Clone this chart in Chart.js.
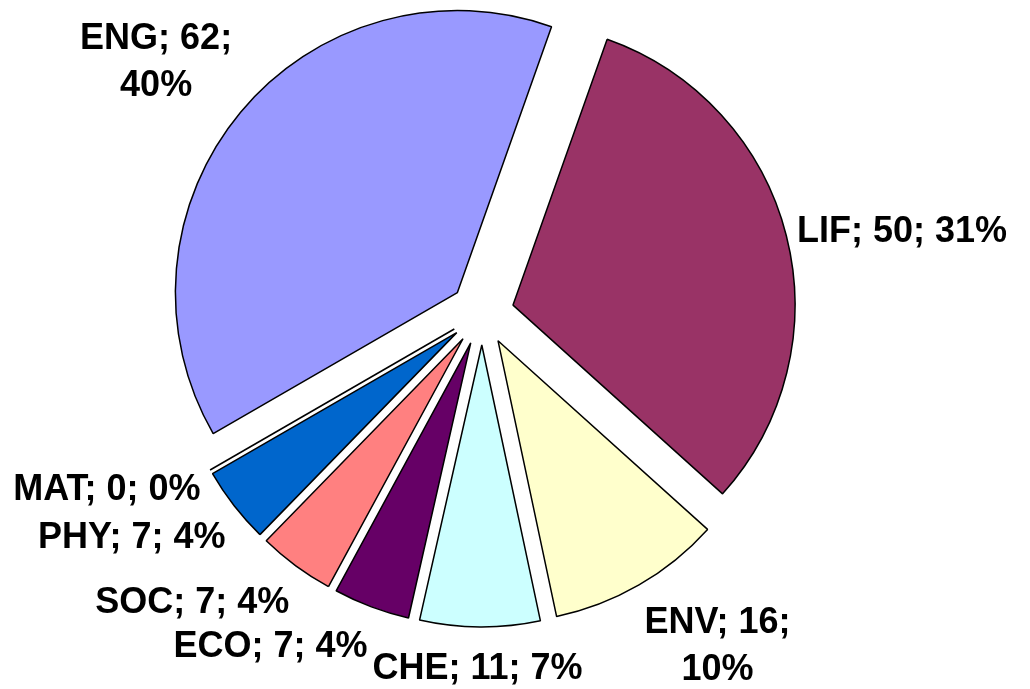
<!DOCTYPE html>
<html>
<head>
<meta charset="utf-8">
<script src="https://cdn.jsdelivr.net/npm/chart.js@4"></script>
<style>
  html, body { margin: 0; padding: 0; background: #fff; }
  #wrap { width: 1030px; height: 689px; position: relative; }
</style>
</head>
<body>
<div id="wrap"><canvas id="pieChart"></canvas></div>
<script>
const subjects = ["ENG", "LIF", "ENV", "CHE", "ECO", "SOC", "PHY", "MAT"];
const counts = [62, 50, 16, 11, 7, 7, 7, 0];
const percents = [40, 31, 10, 7, 4, 4, 4, 0];
const sliceColors = ["#9999ff", "#993366", "#ffffcc", "#ccffff", "#660066", "#ff8080", "#0066cc", "#ccccff"];

const EXPLODE = 32; // how far every slice is pulled out, px
const LABEL_FONT = 'bold 36px "Liberation Sans", Arial, sans-serif';

const clamp = (v, lo, hi) => Math.max(lo, Math.min(hi, v));

// Chart.js grows the radius of exploded slices (and trims their angle a bit); undo that
const explodeFix = {
  id: "explodeFix",
  afterDatasetsUpdate(chart) {
    const meta = chart.getDatasetMeta(0);
    const R = meta.controller.outerRadius;
    meta.data.forEach((arc) => {
      const circ = arc.circumference;
      if (!circ) return;
      const grow = EXPLODE * (1 - Math.sin(Math.min(Math.PI, circ)));
      const trim = grow / Math.PI / R / 2;
      arc.outerRadius = R - grow;
      arc.startAngle -= trim;
      arc.endAngle += trim;
    });
  },
};

function wrapText(ctx, text, maxW) {
  const words = text.split(" ");
  const lines = [];
  let cur = "";
  words.forEach((w) => {
    const test = cur ? cur + " " + w : w;
    if (cur && ctx.measureText(test).width > maxW) {
      lines.push(cur);
      cur = w;
    } else {
      cur = test;
    }
  });
  lines.push(cur);
  return lines;
}

// "name; value; pct%" labels outside the pie, plus the zero slice drawn as a line
const sliceLabels = {
  id: "sliceLabels",
  afterDatasetsDraw(chart) {
    const { ctx } = chart;
    const meta = chart.getDatasetMeta(0);
    const R = meta.controller.outerRadius;
    ctx.save();

    meta.data.forEach((arc) => {
      if (arc.circumference) return;
      const a = arc.startAngle;
      const ox = arc.x + Math.cos(a) * EXPLODE;
      const oy = arc.y + Math.sin(a) * EXPLODE;
      ctx.strokeStyle = "#000";
      ctx.lineWidth = 1.5;
      ctx.beginPath();
      ctx.moveTo(ox, oy);
      ctx.lineTo(ox + Math.cos(a) * R, oy + Math.sin(a) * R);
      ctx.stroke();
    });

    ctx.font = LABEL_FONT;
    ctx.fillStyle = "#000";
    ctx.textAlign = "center";
    ctx.textBaseline = "alphabetic";
    const capH = 26, lineGap = 47, maxW = 222;
    const rx = R + EXPLODE + 11, ry = R + EXPLODE + 26;
    meta.data.forEach((arc, i) => {
      const mid = (arc.startAngle + arc.endAngle) / 2;
      const ux = Math.cos(mid), uy = Math.sin(mid);
      const lines = wrapText(ctx, `${subjects[i]}; ${counts[i]}; ${percents[i]}%`, maxW);
      const w = Math.max(...lines.map((l) => ctx.measureText(l).width));
      const h = capH + (lines.length - 1) * lineGap;
      const sx = clamp(ux / 0.3, -1, 1);
      const sy = Math.sign(uy) * clamp((Math.abs(uy) - 0.45) / 0.15, 0, 1);
      const cx = arc.x + ux * rx + sx * w / 2;
      const cy = arc.y + uy * ry + sy * h / 2;
      lines.forEach((l, k) => ctx.fillText(l, cx, cy - h / 2 + capH + k * lineGap));
    });
    ctx.restore();
  },
};

const ctx = document.getElementById("pieChart");
new Chart(ctx, {
  type: "pie",
  data: {
    labels: subjects,
    datasets: [
      {
        data: counts,
        backgroundColor: sliceColors,
        borderColor: "#000",
        borderWidth: 1.5,
        offset: EXPLODE * 4, // chart.js moves arcs by offset / 4
      },
    ],
  },
  options: {
    responsive: true,
    maintainAspectRatio: false,
    animation: false,
    rotation: 240,
    radius: 282,
    layout: { padding: { left: 0, top: 0, right: 66, bottom: 63 } },
    plugins: { legend: { display: false }, tooltip: { enabled: false } },
  },
  plugins: [explodeFix, sliceLabels],
});
</script>
</body>
</html>
